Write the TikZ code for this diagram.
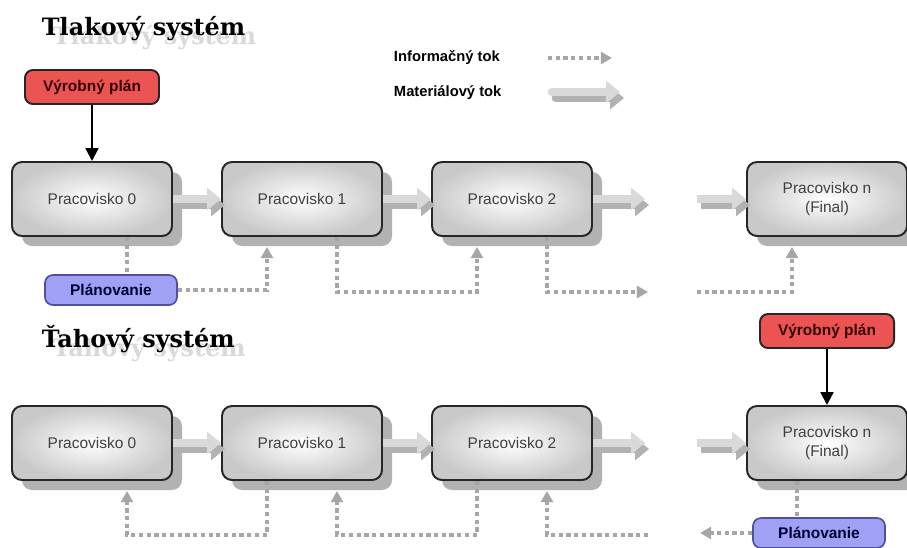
\documentclass[tikz,border=0pt]{standalone}
\usepackage{fontspec}
\setmainfont{Liberation Sans}
\newfontfamily\titlefont{DejaVu Serif}
\usetikzlibrary{shadows,arrows.meta}
\definecolor{planred}{RGB}{236,84,84}
\definecolor{planblue}{RGB}{160,160,245}
\definecolor{planblueline}{RGB}{80,80,160}
\begin{document}
\begin{tikzpicture}[x=0.25mm,y=-0.25mm,
    prac/.style={draw=black!85,line width=1.4pt,rounded corners=2.5mm,
        minimum width=40mm,minimum height=18.5mm,align=center,
        font=\fontsize{11}{13}\selectfont,text=black!75,
        shading=radial,inner color=white,outer color=gray!42,
        drop shadow={shadow xshift=2.5mm,shadow yshift=-2.5mm,fill=gray!60,opacity=1}},
    vplan/.style={draw=black!85,line width=1.4pt,rounded corners=2mm,fill=planred,
        minimum width=33.5mm,minimum height=8.5mm,
        font=\bfseries\fontsize{11}{13}\selectfont,text=black!80!red},
    plano/.style={draw=planblueline,line width=1.2pt,rounded corners=2mm,fill=planblue,
        minimum width=33mm,minimum height=7.5mm,
        font=\bfseries\fontsize{11}{13}\selectfont,text=blue!20!black},
    ttl/.style={anchor=base west,font=\titlefont\bfseries\fontsize{17}{19}\selectfont},
    lgd/.style={anchor=west,font=\bfseries\fontsize{10.5}{12}\selectfont},
    info/.style={draw=gray!70,line width=2.4pt,dash pattern=on 3pt off 2.5pt,
        -{Triangle[length=2.8mm,width=3mm]}},
    infoline/.style={info,-},
    vparrow/.style={draw=black,line width=1.6pt,-{Triangle[length=3.2mm,width=3.2mm]}},
    mat/.style={line width=2.2mm,draw=gray!30,-{Triangle[length=3.5mm,width=5.5mm]}},
    matshade/.style={mat,draw=gray!60,transform canvas={shift={(1mm,-1.5mm)}}}]
    \useasboundingbox (0,0) rectangle (907,547);
    % titulky
    \node[ttl,text=gray!30] at (48,44) {Tlakový systém};
    \node[ttl] (t1) at (37,35) {Tlakový systém};
    \node[ttl,text=gray!30] at (48,356) {Ťahový systém};
    \node[ttl] (t2) at (37,347) {Ťahový systém};
    % legenda
    \node[lgd] (li) at (389,58) {Informačný tok};
    \node[lgd] (lm) at (389,93) {Materiálový tok};
    \coordinate (li1) at (548,58);
    \coordinate (li2) at (612,58);
    \coordinate (lm1) at (552,92);
    \coordinate (lm2) at (620,92);
    \draw[info] (li1) -- (li2);
    \draw[matshade,line cap=round] (lm1) -- (lm2);
    \draw[mat,line cap=round] (lm1) -- (lm2);
    % tlakovy system
    \foreach \i/\x in {0/92,1/302,2/512}
        \node[prac] (a\i) at (\x,199) {Pracovisko \i};
    \node[prac] (an) at (827,199) {Pracovisko n\\(Final)};
    \node[vplan] (vp1) at (92,87) {Výrobný plán};
    \node[plano] (pl1) at (111,290) {Plánovanie};
    \draw[vparrow] (vp1) -- (a0);
    \coordinate (m1) at (645,199);
    \coordinate (m2) at (697,199);
    \foreach \u/\v in {a0.east/a1.west,a1.east/a2.west,a2.east/m1,m2/an.west}
        {\draw[matshade] (\u) -- (\v);
         \draw[mat] (\u) -- (\v);
        }
    \coordinate (e1) at (648,292);
    \coordinate (s1) at (697,292);
    \draw[infoline] ([xshift=8.75mm]a0.south) -- ([xshift=8.75mm]a0.south |- pl1.north);
    \draw[info,shorten >=2.5mm] (pl1.east) -| ([xshift=-8.75mm]a1.south);
    \draw[info,shorten >=2.5mm] ([xshift=8.75mm]a1.south) |- ([xshift=-8.75mm]a2.south |- e1) -- ([xshift=-8.75mm]a2.south);
    \draw[info] ([xshift=8.75mm]a2.south) |- (e1);
    \draw[info,shorten >=2.5mm] (s1) -| ([xshift=-8.75mm]an.south);
    % tahovy system
    \foreach \i/\x in {0/92,1/302,2/512}
        \node[prac] (b\i) at (\x,443) {Pracovisko \i};
    \node[prac] (bn) at (827,443) {Pracovisko n\\(Final)};
    \node[vplan] (vp2) at (827,331) {Výrobný plán};
    \node[plano] (pl2) at (819,533) {Plánovanie};
    \draw[vparrow] (vp2) -- (bn);
    \coordinate (m3) at (645,443);
    \coordinate (m4) at (697,443);
    \foreach \u/\v in {b0.east/b1.west,b1.east/b2.west,b2.east/m3,m4/bn.west}
        {\draw[matshade] (\u) -- (\v);
         \draw[mat] (\u) -- (\v);
        }
    \coordinate (s2) at (648,535);
    \coordinate (e2) at (700,533);
    \draw[info,shorten >=2.5mm] ([xshift=-8.75mm]b1.south) |- ([xshift=8.75mm]b0.south |- s2) -- ([xshift=8.75mm]b0.south);
    \draw[info,shorten >=2.5mm] ([xshift=-8.75mm]b2.south) |- ([xshift=8.75mm]b1.south |- s2) -- ([xshift=8.75mm]b1.south);
    \draw[info,shorten >=2.5mm] (s2) -| ([xshift=8.75mm]b2.south);
    \draw[infoline] ([xshift=-7.5mm]bn.south) -- ([xshift=-7.5mm]bn.south |- pl2.north);
    \draw[info] (pl2.west) -- (e2);
\end{tikzpicture}
\end{document}
